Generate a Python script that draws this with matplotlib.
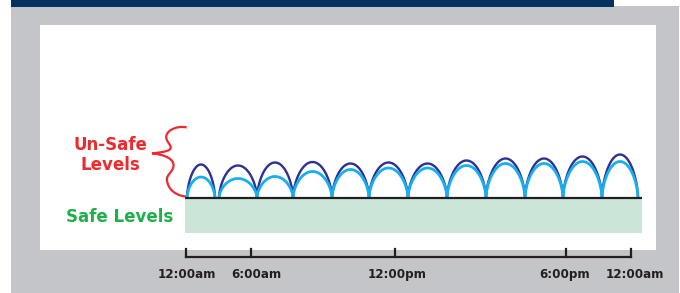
import numpy as np
import matplotlib
matplotlib.use("Agg")
import matplotlib.pyplot as plt
from matplotlib.patches import Rectangle, PathPatch
from matplotlib.path import Path

# ---- data (horizontal units = position along the day axis) ----
arch_start = [187, 219, 257, 293, 332, 369, 408, 447, 486, 525, 563, 602]
arch_end   = [215, 257, 293, 332, 369, 408, 447, 486, 525, 563, 602, 638]
peak_dark  = [33, 32, 35, 35.5, 34, 35, 34, 37, 39, 39, 41, 43]
peak_light = [20.5, 19, 21, 26, 28, 29.5, 29.5, 32, 34, 34, 36, 36]

tick_pos    = [186, 251, 394.5, 566, 631]
tick_labels = ["12:00am", "6:00am", "12:00pm", "6:00pm", "12:00am"]
label_pos   = [187, 256, 397, 565, 635]

BASE = 197.5
NAVY = "#00315F"
GRAY = "#C4C5C8"
DARK_ARCH = "#2E3192"
LIGHT_ARCH = "#19AEEF"
RED = "#EC2A2F"
GREEN = "#1FAF4B"
SAFE_FILL = "#CBE5D9"
INK = "#231F20"

fig = plt.figure(figsize=(6.8, 2.93), dpi=100)
fig.patch.set_facecolor("white")
ax = fig.add_axes([0, 0, 1, 1])
ax.set_xlim(0, 680)
ax.set_ylim(293, 0)
ax.axis("off")

# frame decorations
ax.add_patch(Rectangle((11, 6), 668, 290, facecolor=GRAY, edgecolor="none", zorder=0))
ax.add_patch(Rectangle((11, 0), 603, 6.5, facecolor=NAVY, edgecolor="none", zorder=1))
ax.add_patch(Rectangle((40, 25), 616, 225, facecolor="white", edgecolor="none", zorder=1))

# safe band
ax.add_patch(Rectangle((185, BASE), 457, 35.5, facecolor=SAFE_FILL, edgecolor="none", zorder=2))
ax.plot([185, 642], [BASE, BASE], color=INK, lw=1.6, zorder=5, solid_capstyle="butt")

# arches
for s, e, hd, hl in zip(arch_start, arch_end, peak_dark, peak_light):
    t = np.linspace(0, 1, 200)
    x = s + (e - s) * t
    f = np.clip(1 - (2 * t - 1) ** 2, 0, None) ** 0.62
    ax.plot(x, BASE - hd * f, color=DARK_ARCH, lw=1.7, zorder=3, solid_capstyle="round")
    ax.plot(x, BASE - hl * f, color=LIGHT_ARCH, lw=2.0, zorder=4, solid_capstyle="round")

# curly brace
verts = [
    (186.7, 127.5), (177, 125), (164, 131), (166.5, 139),
    (169, 146), (180, 151), (152, 153.3),
    (166, 155), (174, 159), (173.5, 166),
    (173, 172), (166, 175), (167, 180),
    (168, 191), (178, 196), (186, 196.5),
]
codes = [Path.MOVETO] + [Path.CURVE4] * 15
ax.add_patch(PathPatch(Path(verts, codes), facecolor="none", edgecolor=RED, lw=1.6, zorder=6))

# labels
ax.text(110, 145, "Un-Safe", color=RED, fontsize=12, fontweight="bold",
        family="DejaVu Sans", ha="center", va="center", zorder=7)
ax.text(110, 165, "Levels", color=RED, fontsize=12, fontweight="bold",
        family="DejaVu Sans", ha="center", va="center", zorder=7)
ax.text(120, 217.5, "Safe Levels", color=GREEN, fontsize=12, fontweight="bold",
        family="DejaVu Sans", ha="center", va="center", zorder=7)

# time axis
ax.plot([tick_pos[0], tick_pos[-1]], [256.7, 256.7], color=INK, lw=1.6, zorder=5,
        solid_capstyle="projecting")
for p in tick_pos:
    ax.plot([p, p], [249, 256.7], color=INK, lw=1.6, zorder=5, solid_capstyle="projecting")
for p, lab in zip(label_pos, tick_labels):
    ax.text(p, 274.5, lab, color=INK, fontsize=8.6, fontweight="bold",
            family="DejaVu Sans", ha="center", va="center", zorder=7)

fig.savefig("out.png", dpi=100, facecolor=fig.get_facecolor())
